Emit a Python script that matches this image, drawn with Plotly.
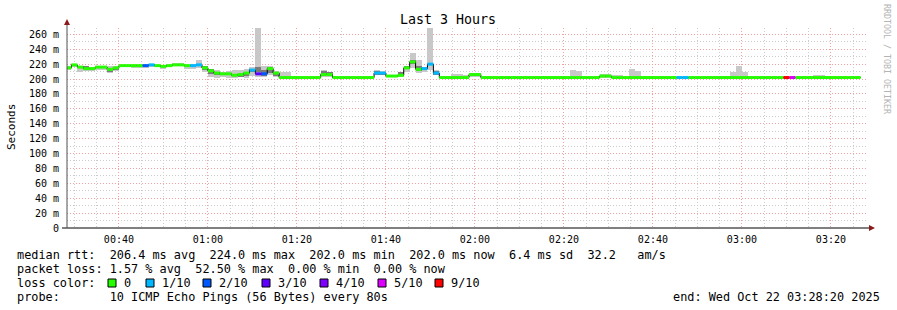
import pandas as pd
import plotly.graph_objects as go

# ---------------- data ----------------
start_time = "2025-10-22 00:28:00"
step_seconds = 80
view_start = "2025-10-22 00:28:20"
view_end = "2025-10-22 03:28:20"

median_ms = [
    215, 219, 216, 214, 214, 216, 216, 213, 215, 218,
    218, 218, 218, 218, 219, 218, 217, 218, 219, 219,
    218, 218, 219, 215, 211, 208, 207, 207, 205, 206,
    208, 212, 207, 207, 214, 208, 202, 202, 202, 202,
    202, 202, 202, 206, 206, 202, 202, 202, 202, 202,
    202, 202, 208, 208, 204, 204, 205, 215, 223, 213,
    214, 220, 208, 202, 202, 202, 202, 202, 206, 206,
    202, 202, 202, 202, 202, 202, 202, 202, 202, 202,
    202, 202, 202, 202, 202, 202, 202, 202, 202, 202,
    204, 204, 202, 202, 202, 202, 202, 202, 202, 202,
    202, 202, 202, 202, 202, 202, 202, 202, 202, 202,
    202, 202, 202, 202, 202, 202, 202, 202, 202, 202,
    202, 202, 202, 202, 202, 202, 202, 202, 202, 202,
    202, 202, 202, 202,
]

loss_count = [
    0, 0, 0, 0, 0, 0, 0, 0, 0, 0,
    0, 0, 0, 2, 1, 0, 0, 0, 0, 0,
    0, 1, 1, 0, 0, 0, 0, 0, 0, 0,
    0, 1, 3, 2, 0, 0, 0, 0, 0, 0,
    0, 0, 0, 0, 0, 0, 0, 0, 0, 0,
    0, 0, 1, 1, 0, 0, 0, 0, 0, 0,
    1, 1, 1, 0, 0, 0, 0, 0, 0, 0,
    0, 0, 0, 0, 0, 0, 0, 0, 0, 0,
    0, 0, 0, 0, 0, 0, 0, 0, 0, 0,
    0, 0, 0, 0, 0, 0, 0, 0, 0, 0,
    0, 0, 0, 1, 1, 0, 0, 0, 0, 0,
    0, 0, 0, 0, 0, 0, 0, 0, 0, 0,
    0, 9, 5, 0, 0, 0, 0, 0, 0, 0,
    0, 0, 0, 0,
]

smoke_min_ms = [
    212, 216, 210, 211, 211, 212, 212, 208, 211, 216,
    216, 215, 215, 215, 216, 216, 213, 216, 217, 217,
    214, 214, 215, 210, 203, 202, 203, 202, 202, 203,
    202, 204, 203, 203, 205, 203, 202, 202, 202, 202,
    202, 202, 202, 203, 203, 202, 202, 202, 202, 202,
    202, 202, 205, 205, 203, 203, 203, 209, 215, 208,
    210, 212, 205, 202, 202, 202, 202, 202, 203, 203,
    202, 202, 202, 202, 202, 202, 202, 202, 202, 202,
    202, 202, 202, 202, 202, 202, 202, 202, 202, 202,
    202, 202, 202, 202, 202, 202, 202, 202, 202, 202,
    202, 202, 202, 202, 202, 202, 202, 202, 202, 202,
    202, 202, 202, 202, 202, 202, 202, 202, 202, 202,
    202, 202, 202, 202, 202, 202, 202, 202, 202, 202,
    202, 202, 202, 202,
]

smoke_max_ms = [
    217, 220, 217, 217, 216, 217, 217, 218, 217, 219,
    219, 219, 219, 219, 220, 219, 218, 219, 221, 221,
    219, 220, 225, 218, 214, 212, 210, 211, 212, 212,
    213, 216, 268, 217, 217, 211, 210, 209, 202, 202,
    202, 202, 204, 212, 210, 202, 202, 202, 202, 202,
    202, 202, 212, 211, 205, 206, 209, 218, 235, 226,
    216, 268, 212, 202, 202, 207, 207, 205, 208, 208,
    202, 202, 202, 202, 202, 202, 202, 202, 202, 202,
    202, 202, 202, 202, 202, 212, 211, 202, 202, 202,
    207, 207, 206, 206, 202, 213, 211, 202, 204, 202,
    202, 202, 202, 202, 202, 202, 202, 202, 202, 202,
    202, 202, 209, 217, 209, 202, 202, 202, 202, 202,
    202, 202, 202, 202, 202, 202, 205, 205, 202, 202,
    202, 202, 202, 202,
]

# darker smoke close to the median (sample index, low, high)
core_index = [3, 7, 8, 23, 24, 25, 29, 30, 31, 32, 33, 34, 35, 43, 44, 52, 53, 56, 57, 58, 59, 62, 68]
core_lo_ms = [215, 209, 212, 212, 207, 206, 203, 204, 209, 210, 204, 208, 204, 207, 206, 206, 206, 204, 213, 220, 211, 206, 204]
core_hi_ms = [218, 213, 216, 217, 213, 210, 206, 208, 213, 216, 212, 216, 209, 211, 209, 211, 210, 209, 218, 226, 218, 211, 207]

loss_levels = [0, 1, 2, 3, 4, 5, 9]
loss_colors = ["#26ff00", "#00b8ff", "#0059ff", "#5e00ff", "#7e00ff", "#dd00ff", "#ff0000"]
loss_labels = ["0", "1/10", "2/10", "3/10", "4/10", "5/10", "9/10"]

y_tick_values = [0, 20, 40, 60, 80, 100, 120, 140, 160, 180, 200, 220, 240, 260]
y_tick_labels = ["0", "20 m", "40 m", "60 m", "80 m", "100 m", "120 m", "140 m",
                 "160 m", "180 m", "200 m", "220 m", "240 m", "260 m"]
x_tick_labels = ["00:40", "01:00", "01:20", "01:40", "02:00", "02:20", "02:40", "03:00", "03:20"]

title_text = "Last 3 Hours"
y_title = "Seconds"
legend_lines = [
    "median rtt:  206.4 ms avg  224.0 ms max  202.0 ms min  202.0 ms now  6.4 ms sd  32.2   am/s",
    "packet loss: 1.57 % avg  52.50 % max  0.00 % min  0.00 % now",
]
loss_caption = "loss color:"
probe_text = "probe:       10 ICMP Echo Pings (56 Bytes) every 80s"
end_text = "end: Wed Oct 22 03:28:20 2025"
side_text = "RRDTOOL / TOBI OETIKER"

# ---------------- layout constants (pixels) ----------------
W, H = 897, 310
L, R, T, B = 67, 868, 28, 228
Y_MAX = 268.5
MONO = "DejaVu Sans Mono"
LEG_SIZE = 11.85


def px(x):
    return (x - L) / (R - L)


def py(y):
    return (B - y) / (B - T)


def nb(s):
    return s.replace(" ", "\u00a0")


t0 = pd.Timestamp(start_time)
step = pd.Timedelta(seconds=step_seconds)
n = len(median_ms)
starts = [t0 + i * step for i in range(n)]
centers = [s + step / 2 for s in starts]

fig = go.Figure()

# light smoke (min..max)
fig.add_trace(go.Bar(
    x=centers, base=smoke_min_ms,
    y=[hi - lo for lo, hi in zip(smoke_min_ms, smoke_max_ms)],
    width=step_seconds * 1000, marker=dict(color="#c8c8c8", line=dict(width=0)),
    hoverinfo="skip"))

# darker smoke
fig.add_trace(go.Bar(
    x=[centers[i] for i in core_index], base=core_lo_ms,
    y=[hi - lo for lo, hi in zip(core_lo_ms, core_hi_ms)],
    width=step_seconds * 1000, marker=dict(color="#7a7a7a", line=dict(width=0)),
    hoverinfo="skip"))

# black step outline of the median
fig.add_trace(go.Scatter(
    x=starts + [starts[-1] + step], y=median_ms + [median_ms[-1]],
    mode="lines", line=dict(color="black", width=1, shape="hv"), hoverinfo="skip"))

# coloured median segments by loss
for lvl, col in zip(loss_levels, loss_colors):
    xs, ys = [], []
    for i in range(n):
        if loss_count[i] == lvl:
            xs += [starts[i], starts[i] + step, None]
            ys += [median_ms[i], median_ms[i], None]
    if xs:
        fig.add_trace(go.Scatter(x=xs, y=ys, mode="lines",
                                 line=dict(color=col, width=3), hoverinfo="skip"))

grid_major = "#f2a0a0"
grid_minor = "#cccccc"

fig.update_xaxes(
    type="date", range=[view_start, view_end],
    tickvals=["2025-10-22 " + t + ":00" for t in x_tick_labels],
    ticktext=x_tick_labels, ticks="outside", ticklen=2, tickcolor="rgba(0,0,0,0)",
    showline=False, zeroline=False,
    showgrid=True, gridcolor=grid_major, griddash="1px,2px", gridwidth=1,
    tickfont=dict(family=MONO, size=10, color="black"),
    minor=dict(dtick=300000, tick0="2025-10-22 00:00:00", showgrid=True,
               gridcolor=grid_minor, griddash="1px,2px", gridwidth=1, ticks=""),
)
fig.update_yaxes(
    range=[0, Y_MAX], tickvals=y_tick_values, ticktext=y_tick_labels,
    ticks="outside", ticklen=5, tickcolor="rgba(0,0,0,0)",
    showline=False, zeroline=False,
    showgrid=True, gridcolor=grid_major, griddash="1px,2px", gridwidth=1,
    tickfont=dict(family=MONO, size=10, color="black"),
    minor=dict(dtick=10, tick0=0, showgrid=True, gridcolor=grid_minor,
               griddash="1px,2px", gridwidth=1, ticks=""),
)

shapes = [
    # x axis line
    dict(type="line", xref="paper", yref="paper", x0=px(62), x1=px(870), y0=py(228), y1=py(228),
         line=dict(color="black", width=1), layer="above"),
    # y axis line
    dict(type="line", xref="paper", yref="paper", x0=px(67), x1=px(67), y0=py(228), y1=py(22),
         line=dict(color="#505050", width=1), layer="above"),
    # arrowheads
    dict(type="path", xref="paper", yref="paper",
         path=f"M {px(64)} {py(25)} L {px(70)} {py(25)} L {px(67)} {py(19)} Z",
         fillcolor="#8b1a1a", line=dict(color="#8b1a1a", width=0), layer="above"),
    dict(type="path", xref="paper", yref="paper",
         path=f"M {px(869)} {py(225)} L {px(869)} {py(231)} L {px(875)} {py(228)} Z",
         fillcolor="#8b1a1a", line=dict(color="#8b1a1a", width=0), layer="above"),
]

annotations = [
    dict(text=nb(title_text), x=px(448), y=py(19), xref="paper", yref="paper",
         showarrow=False, xanchor="center", yanchor="middle",
         font=dict(family=MONO, size=13.3, color="black")),
    dict(text=nb(y_title), x=px(11), y=py(127), xref="paper", yref="paper",
         showarrow=False, xanchor="center", yanchor="middle", textangle=-90,
         font=dict(family=MONO, size=11, color="black")),
    dict(text=nb(side_text), x=px(887), y=py(59), xref="paper", yref="paper",
         showarrow=False, xanchor="center", yanchor="middle", textangle=90,
         font=dict(family=MONO, size=8.3, color="#b4b4b4")),
]

legend_y = [254.5, 268.5, 282.5, 296.5]
for line_text, yy in zip(legend_lines, legend_y[:2]):
    annotations.append(dict(text=nb(line_text), x=px(15), y=py(yy), xref="paper", yref="paper",
                            showarrow=False, xanchor="left", yanchor="middle",
                            font=dict(family=MONO, size=LEG_SIZE, color="black")))
annotations.append(dict(text=nb(loss_caption), x=px(15), y=py(legend_y[2]), xref="paper", yref="paper",
                        showarrow=False, xanchor="left", yanchor="middle",
                        font=dict(family=MONO, size=LEG_SIZE, color="black")))
annotations.append(dict(text=nb(probe_text), x=px(15), y=py(legend_y[3]), xref="paper", yref="paper",
                        showarrow=False, xanchor="left", yanchor="middle",
                        font=dict(family=MONO, size=LEG_SIZE, color="black")))
annotations.append(dict(text=nb(end_text), x=px(882), y=py(legend_y[3]), xref="paper", yref="paper",
                        showarrow=False, xanchor="right", yanchor="middle",
                        font=dict(family=MONO, size=LEG_SIZE, color="black")))

square_x = [108, 146, 203, 262, 320, 378, 435]
for sx, col, lab in zip(square_x, loss_colors, loss_labels):
    shapes.append(dict(type="rect", xref="paper", yref="paper",
                       x0=px(sx), x1=px(sx + 8), y0=py(287), y1=py(279),
                       fillcolor=col, line=dict(color="black", width=1), layer="above"))
    annotations.append(dict(text=lab, x=px(sx + 14), y=py(legend_y[2]), xref="paper", yref="paper",
                            showarrow=False, xanchor="left", yanchor="middle",
                            font=dict(family=MONO, size=LEG_SIZE, color="black")))

fig.update_layout(
    width=W, height=H,
    margin=dict(l=L, r=W - R, t=T, b=H - B, pad=0),
    paper_bgcolor="white", plot_bgcolor="white",
    showlegend=False, barmode="overlay", bargap=0,
    font=dict(family=MONO, size=10, color="black"),
    shapes=shapes, annotations=annotations,
)

fig.write_html("out.html")
